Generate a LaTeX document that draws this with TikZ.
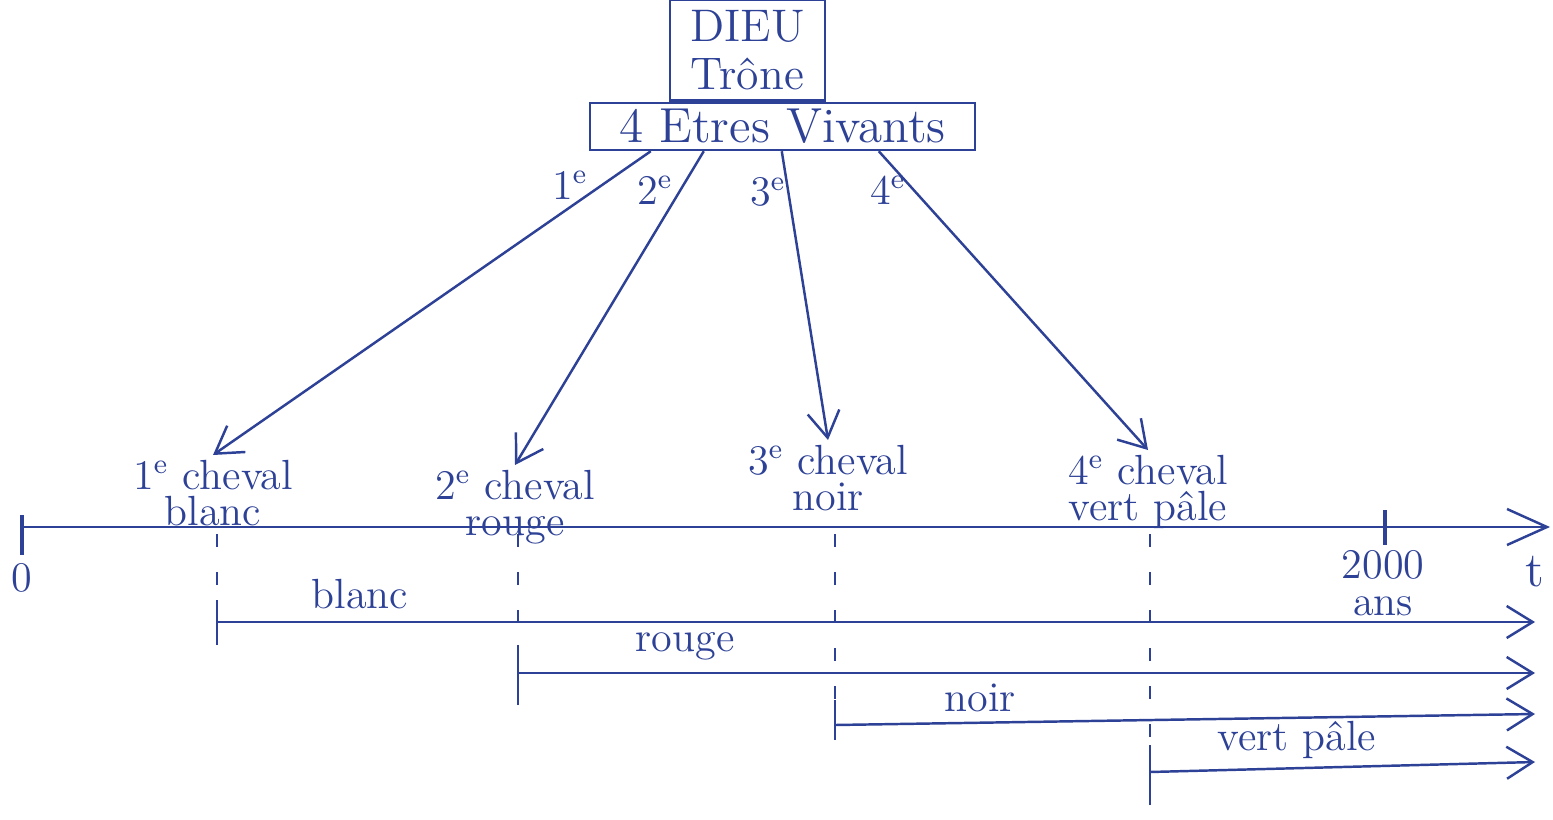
\documentclass[tikz,border=0pt]{standalone}
\usepackage{tikz}
\usetikzlibrary{arrows.meta,positioning}
\definecolor{ink}{RGB}{45,65,150}

\begin{document}
\begin{tikzpicture}[color=ink, line width=0.7pt, font=\fontsize{12}{10.5}\selectfont,
	box/.style={draw, inner sep=0pt, align=center, font=\fontsize{14}{12}\selectfont},
	horse/.style={anchor=north, inner sep=1pt, align=center},
	barb/.style={-{Straight Barb[length=2.6mm,width=3.2mm]}}]
	\useasboundingbox (0,0) rectangle (15.53,8.19);
	\node[box, minimum width=3.85cm, minimum height=4.7mm] (etres) at (7.825,6.925) {4 Etres Vivants};
	\node[box, minimum width=1.55cm, minimum height=1.01cm, anchor=south, font=\fontsize{13}{13.5}\selectfont] (dieu) at ([xshift=-3.5mm]etres.north) {DIEU\\Trône};
	% les quatre chevaux
	\node[horse] (h1) at (2.13,3.64) {1\textsuperscript{e} cheval\\blanc};
	\node[horse] (h2) at (5.15,3.54) {2\textsuperscript{e} cheval\\rouge};
	\node[horse] (h3) at (8.28,3.79) {3\textsuperscript{e} cheval\\noir};
	\node[horse] (h4) at (11.48,3.69) {4\textsuperscript{e} cheval\\vert pâle};
	\foreach \dx/\n/\lx/\ly in {6.2mm/1/5.70/6.34, 11.5mm/2/6.55/6.29, 19.3mm/3/7.68/6.27, 29mm/4/8.88/6.29} {\draw[barb] ([xshift=\dx]etres.south west) -- (h\n.north); \node (o\n) at (\lx,\ly) {\n\textsuperscript{e}};}
	% axe du temps
	\coordinate (zero) at (0.22,2.92);
	\coordinate (fin) at (15.50,2.92);
	\draw[-{Straight Barb[length=4mm,width=3.6mm]}] (zero) -- (fin);
	\draw[line width=1pt] (0.22,3.04) -- (0.22,2.64);
	\draw[line width=1pt] (13.85,3.09) -- (13.85,2.74);
	\node (n0) at (0.22,2.41) {0};
	\node[align=center] (ans) at (13.83,2.36) {2000\\ans};
	\node[font=\fontsize{14}{14}\selectfont] (t) at (15.35,2.47) {t};
	% les periodes
	\foreach \i/\x/\y/\ye/\top/\bot/\c/\lx in {1/2.17/1.97/1.97/2.19/1.74/blanc/3.60, 2/5.18/1.46/1.46/1.74/1.14/rouge/6.85, 3/8.35/0.94/1.05/1.19/0.79/noir/9.80, 4/11.50/0.47/0.57/0.74/0.14/vert pâle/12.97} {\draw[dash pattern=on 1.3mm off 2.5mm] (\x,2.85) -- (\x,\top); \draw (\x,\top) -- (\x,\bot); \draw[barb] (\x,\y) -- (15.35,\ye); \node[above] (p\i) at (\lx,\y) {\c};}
\end{tikzpicture}
\end{document}
